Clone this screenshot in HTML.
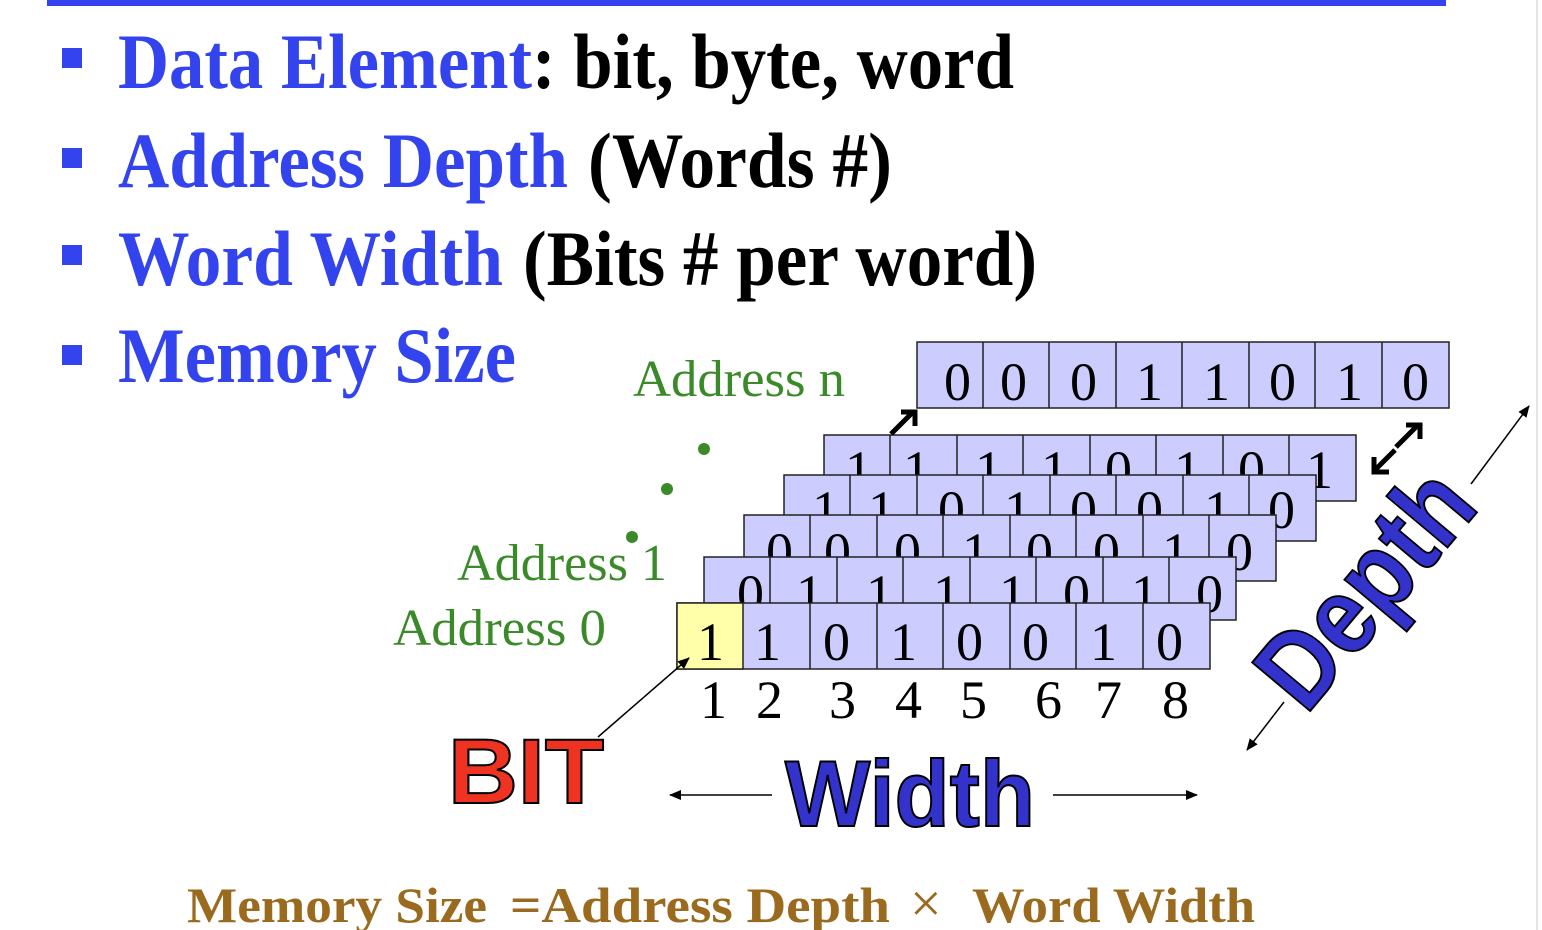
<!DOCTYPE html>
<html><head><meta charset="utf-8"><style>
html,body{margin:0;padding:0;background:#fff;}
svg{display:block;}
</style></head><body>
<svg width="1542" height="930" viewBox="0 0 1542 930" xmlns="http://www.w3.org/2000/svg">
<defs>
<marker id="ah" markerWidth="12" markerHeight="12" refX="11" refY="6" orient="auto" markerUnits="userSpaceOnUse">
<path d="M0,1 L12,6 L0,11 Z" fill="#000"/></marker>
</defs>
<rect x="47" y="0" width="1399" height="6" fill="#3344ee"/>
<line x1="1537" y1="0" x2="1537" y2="930" stroke="#e4e4e4" stroke-width="2"/>
<g font-family="Liberation Serif, serif" font-weight="bold" font-size="78">
<rect x="62" y="48" width="20" height="20" fill="#3344ee"/>
<rect x="62" y="148" width="20" height="20" fill="#3344ee"/>
<rect x="62" y="245" width="20" height="20" fill="#3344ee"/>
<rect x="62" y="345" width="20" height="20" fill="#3344ee"/>
<text x="118" y="88" fill="#3344ee" textLength="414" lengthAdjust="spacingAndGlyphs">Data Element</text>
<text x="532" y="88" fill="#000" textLength="482" lengthAdjust="spacingAndGlyphs">: bit, byte, word</text>
<text x="118" y="187" fill="#3344ee" textLength="450" lengthAdjust="spacingAndGlyphs">Address Depth</text>
<text x="588" y="187" fill="#000" textLength="304" lengthAdjust="spacingAndGlyphs">(Words #)</text>
<text x="118" y="285" fill="#3344ee" textLength="385" lengthAdjust="spacingAndGlyphs">Word Width</text>
<text x="523" y="285" fill="#000" textLength="514" lengthAdjust="spacingAndGlyphs">(Bits # per word)</text>
<text x="118" y="382" fill="#3344ee" textLength="398" lengthAdjust="spacingAndGlyphs">Memory Size</text>
</g>
<g font-family="Liberation Serif, serif" font-size="52" fill="#3a8a2a">
<text x="633" y="396" textLength="212" lengthAdjust="spacingAndGlyphs">Address n</text>
<text x="457" y="580" textLength="210" lengthAdjust="spacingAndGlyphs">Address 1</text>
<text x="393" y="645" textLength="213" lengthAdjust="spacingAndGlyphs">Address 0</text>
<circle cx="704" cy="449" r="6"/><circle cx="667" cy="489" r="6"/><circle cx="632" cy="537" r="6"/>
</g>
<g font-family="Liberation Serif, serif" font-size="54" fill="#000" stroke="#222" stroke-width="1.5">
<g>
<rect x="917" y="342" width="532" height="66" fill="#ccccff"/>
<path d="M983,342V408M1049,342V408M1116,342V408M1182,342V408M1249,342V408M1315,342V408M1382,342V408"/>
<g stroke="none"><text x="944" y="400">0</text><text x="1000" y="400">0</text><text x="1070" y="400">0</text><text x="1136" y="400">1</text><text x="1203" y="400">1</text><text x="1269" y="400">0</text><text x="1336" y="400">1</text><text x="1402" y="400">0</text></g>
</g>
<g>
<rect x="824" y="435" width="532" height="66" fill="#ccccff"/>
<path d="M890,435V501M957,435V501M1023,435V501M1090,435V501M1156,435V501M1223,435V501M1289,435V501"/>
<g stroke="none"><text x="845" y="488">1</text><text x="903" y="488">1</text><text x="975" y="488">1</text><text x="1041" y="488">1</text><text x="1105" y="488">0</text><text x="1174" y="488">1</text><text x="1238" y="488">0</text><text x="1306" y="488">1</text></g>
</g>
<g>
<rect x="784" y="475" width="532" height="66" fill="#ccccff"/>
<path d="M850,475V541M917,475V541M983,475V541M1050,475V541M1116,475V541M1183,475V541M1249,475V541"/>
<g stroke="none"><text x="812" y="528">1</text><text x="868" y="528">1</text><text x="938" y="528">0</text><text x="1004" y="528">1</text><text x="1070" y="528">0</text><text x="1136" y="528">0</text><text x="1204" y="528">1</text><text x="1268" y="528">0</text></g>
</g>
<g>
<rect x="744" y="515" width="532" height="66" fill="#ccccff"/>
<path d="M810,515V581M877,515V581M943,515V581M1010,515V581M1076,515V581M1143,515V581M1209,515V581"/>
<g stroke="none"><text x="766" y="570">0</text><text x="824" y="570">0</text><text x="894" y="570">0</text><text x="962" y="570">1</text><text x="1026" y="570">0</text><text x="1093" y="570">0</text><text x="1162" y="570">1</text><text x="1226" y="570">0</text></g>
</g>
<g>
<rect x="704" y="557" width="532" height="63" fill="#ccccff"/>
<path d="M770,557V620M837,557V620M903,557V620M970,557V620M1036,557V620M1103,557V620M1169,557V620"/>
<g stroke="none"><text x="737" y="612">0</text><text x="796" y="612">1</text><text x="866" y="612">1</text><text x="933" y="612">1</text><text x="999" y="612">1</text><text x="1063" y="612">0</text><text x="1131" y="612">1</text><text x="1196" y="612">0</text></g>
</g>
<g>
<rect x="677" y="603" width="533" height="66" fill="#ccccff"/>
<rect x="677" y="603" width="66" height="66" fill="#ffffaa"/>
<path d="M810,603V669M877,603V669M943,603V669M1010,603V669M1076,603V669M1143,603V669"/>
<g stroke="none"><text x="697" y="660">1</text><text x="754" y="660">1</text><text x="823" y="660">0</text><text x="890" y="660">1</text><text x="956" y="660">0</text><text x="1022" y="660">0</text><text x="1090" y="660">1</text><text x="1156" y="660">0</text></g>
</g>
<g stroke="none"><text x="700" y="718">1</text><text x="756" y="718">2</text><text x="829" y="718">3</text><text x="895" y="718">4</text><text x="960" y="718">5</text><text x="1035" y="718">6</text><text x="1095" y="718">7</text><text x="1162" y="718">8</text></g>
</g>
<g stroke="#000" fill="none">
<line x1="598" y1="737" x2="689" y2="658" stroke-width="1.5" marker-end="url(#ah)"/>
<line x1="772" y1="795" x2="670" y2="795" stroke-width="1.5" marker-end="url(#ah)"/>
<line x1="1053" y1="795" x2="1197" y2="795" stroke-width="1.5" marker-end="url(#ah)"/>
<line x1="1471" y1="484" x2="1529" y2="406" stroke-width="1.5" marker-end="url(#ah)"/>
<line x1="1284" y1="702" x2="1247" y2="750" stroke-width="1.5" marker-end="url(#ah)"/>
<g stroke-width="5">
<path d="M891,434 L912,413 M901,412 H915 V426"/>
<path d="M1396,447 L1417,426 M1406,425 H1420 V439"/>
<path d="M1395,450 L1374,471 M1374,457 V472 H1389"/>
</g>
</g>
<text x="448" y="803" font-family="Liberation Sans, sans-serif" font-weight="bold" font-size="92" fill="#ee3322" stroke="#000" stroke-width="2" textLength="156" lengthAdjust="spacingAndGlyphs">BIT</text>
<text x="785" y="826" font-family="Liberation Sans, sans-serif" font-weight="bold" font-size="94" fill="#3333cc" stroke="#000" stroke-width="2" textLength="250" lengthAdjust="spacingAndGlyphs">Width</text>
<text transform="translate(1306,716) rotate(-50)" x="0" y="0" font-family="Liberation Sans, sans-serif" font-weight="bold" font-size="110" fill="#3333cc" stroke="#000" stroke-width="2" textLength="272" lengthAdjust="spacingAndGlyphs">Depth</text>
<g font-family="Liberation Serif, serif" font-weight="bold" font-size="50" fill="#9a6a1e">
<text x="187" y="922" textLength="300" lengthAdjust="spacingAndGlyphs">Memory Size</text>
<text x="510" y="922" textLength="380" lengthAdjust="spacingAndGlyphs">=Address Depth</text>
<text x="910" y="922" font-weight="normal" font-size="56">×</text>
<text x="972" y="922" textLength="283" lengthAdjust="spacingAndGlyphs">Word Width</text>
</g>
</svg>
</body></html>
